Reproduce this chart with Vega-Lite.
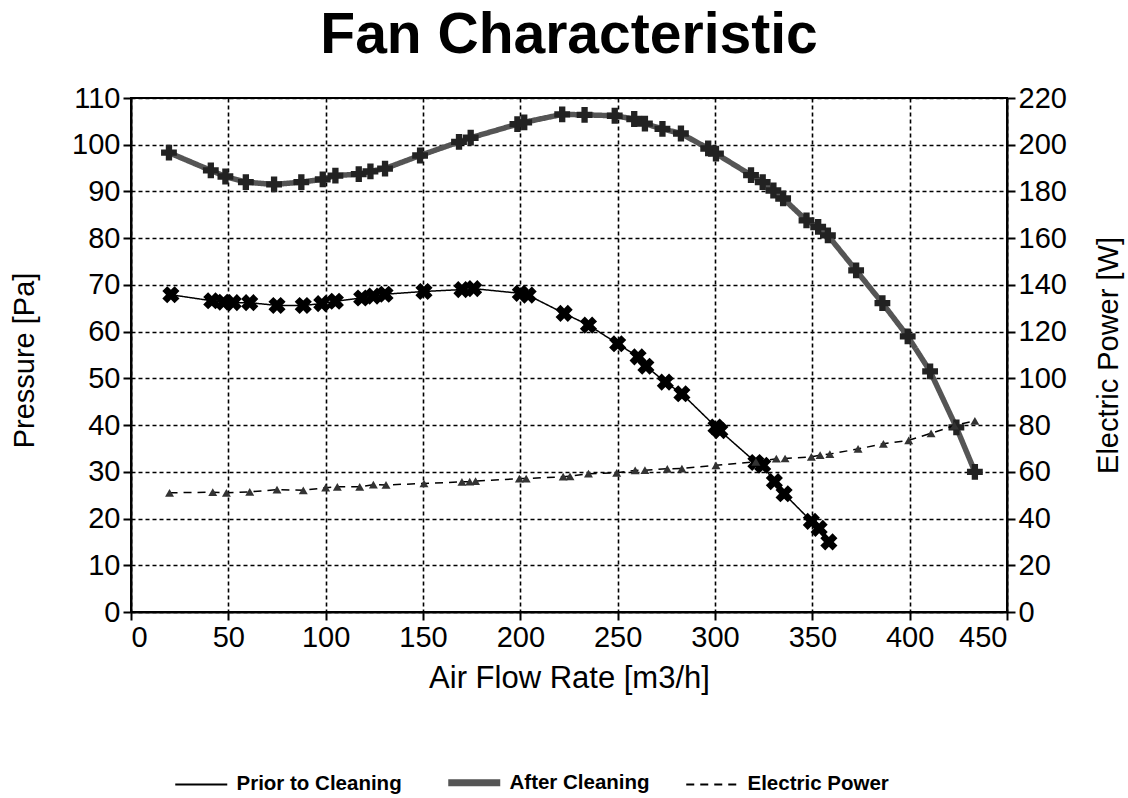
{
  "$schema": "https://vega.github.io/schema/vega-lite/v6.json",
  "width": 876,
  "height": 514,
  "autosize": {"type": "none"},
  "padding": {"left": 131, "top": 98, "right": 121, "bottom": 186},
  "background": "white",
  "title": {"text": "Fan Characteristic", "font": "Liberation Sans", "fontSize": 57, "fontWeight": "bold", "color": "#000", "anchor": "middle", "frame": "group", "baseline": "alphabetic", "offset": -26},
  "config": {
    "font": "Liberation Sans",
    "view": {"stroke": "#000", "strokeWidth": 2},
    "axis": {
      "domainColor": "#000", "domainWidth": 2, "tickColor": "#000", "tickWidth": 2, "tickSize": 8,
      "labelFont": "Liberation Sans", "labelFontSize": 29, "labelColor": "#000", "labelPadding": 3,
      "titleFont": "Liberation Sans", "titleFontSize": 29, "titleFontWeight": "normal", "titleColor": "#000",
      "gridColor": "#000", "gridDash": [4, 3], "gridWidth": 1.6, "gridOpacity": 1
    }
  },
  "datasets": {
    "d": [
      {"series": "After Cleaning", "flow": 19.5, "value": 98.3},
      {"series": "After Cleaning", "flow": 41, "value": 94.5},
      {"series": "After Cleaning", "flow": 48.5, "value": 93.2},
      {"series": "After Cleaning", "flow": 59, "value": 92.0},
      {"series": "After Cleaning", "flow": 73.5, "value": 91.5},
      {"series": "After Cleaning", "flow": 87.5, "value": 92.0},
      {"series": "After Cleaning", "flow": 98.5, "value": 92.6},
      {"series": "After Cleaning", "flow": 105, "value": 93.4},
      {"series": "After Cleaning", "flow": 117, "value": 93.7},
      {"series": "After Cleaning", "flow": 123, "value": 94.3},
      {"series": "After Cleaning", "flow": 130.5, "value": 94.9},
      {"series": "After Cleaning", "flow": 148.5, "value": 97.7},
      {"series": "After Cleaning", "flow": 168.5, "value": 100.6},
      {"series": "After Cleaning", "flow": 174.5, "value": 101.5},
      {"series": "After Cleaning", "flow": 198.5, "value": 104.4},
      {"series": "After Cleaning", "flow": 202, "value": 104.8},
      {"series": "After Cleaning", "flow": 221.5, "value": 106.5},
      {"series": "After Cleaning", "flow": 233, "value": 106.4},
      {"series": "After Cleaning", "flow": 248.5, "value": 106.2},
      {"series": "After Cleaning", "flow": 258.5, "value": 105.5},
      {"series": "After Cleaning", "flow": 264, "value": 104.5},
      {"series": "After Cleaning", "flow": 273, "value": 103.4},
      {"series": "After Cleaning", "flow": 282.5, "value": 102.4},
      {"series": "After Cleaning", "flow": 296.5, "value": 99.2},
      {"series": "After Cleaning", "flow": 300.5, "value": 98.1},
      {"series": "After Cleaning", "flow": 318.5, "value": 93.5},
      {"series": "After Cleaning", "flow": 324.5, "value": 92.0},
      {"series": "After Cleaning", "flow": 330, "value": 90.2},
      {"series": "After Cleaning", "flow": 335, "value": 88.5},
      {"series": "After Cleaning", "flow": 347, "value": 83.8},
      {"series": "After Cleaning", "flow": 353, "value": 82.4},
      {"series": "After Cleaning", "flow": 358, "value": 80.6},
      {"series": "After Cleaning", "flow": 372.5, "value": 73.1},
      {"series": "After Cleaning", "flow": 386, "value": 66.1},
      {"series": "After Cleaning", "flow": 399, "value": 59.0},
      {"series": "After Cleaning", "flow": 410.5, "value": 51.5},
      {"series": "After Cleaning", "flow": 424, "value": 39.5},
      {"series": "After Cleaning", "flow": 433.5, "value": 30.0},
      {"series": "Prior to Cleaning", "flow": 20.5, "value": 67.9},
      {"series": "Prior to Cleaning", "flow": 41.5, "value": 66.6},
      {"series": "Prior to Cleaning", "flow": 47.5, "value": 66.3},
      {"series": "Prior to Cleaning", "flow": 52.5, "value": 66.2},
      {"series": "Prior to Cleaning", "flow": 61, "value": 66.2},
      {"series": "Prior to Cleaning", "flow": 75, "value": 65.6},
      {"series": "Prior to Cleaning", "flow": 88.5, "value": 65.6},
      {"series": "Prior to Cleaning", "flow": 98, "value": 66.0},
      {"series": "Prior to Cleaning", "flow": 105, "value": 66.5},
      {"series": "Prior to Cleaning", "flow": 118.5, "value": 67.2},
      {"series": "Prior to Cleaning", "flow": 124.5, "value": 67.6},
      {"series": "Prior to Cleaning", "flow": 130.5, "value": 68.0},
      {"series": "Prior to Cleaning", "flow": 150.5, "value": 68.6},
      {"series": "Prior to Cleaning", "flow": 170, "value": 69.0},
      {"series": "Prior to Cleaning", "flow": 176, "value": 69.2},
      {"series": "Prior to Cleaning", "flow": 200, "value": 68.2},
      {"series": "Prior to Cleaning", "flow": 204, "value": 67.8},
      {"series": "Prior to Cleaning", "flow": 222.5, "value": 63.9},
      {"series": "Prior to Cleaning", "flow": 235, "value": 61.4},
      {"series": "Prior to Cleaning", "flow": 250, "value": 57.4},
      {"series": "Prior to Cleaning", "flow": 260.5, "value": 54.6},
      {"series": "Prior to Cleaning", "flow": 264.5, "value": 52.6},
      {"series": "Prior to Cleaning", "flow": 274.5, "value": 49.2},
      {"series": "Prior to Cleaning", "flow": 283, "value": 46.7},
      {"series": "Prior to Cleaning", "flow": 300.5, "value": 39.6},
      {"series": "Prior to Cleaning", "flow": 302.5, "value": 38.8},
      {"series": "Prior to Cleaning", "flow": 321, "value": 32.0},
      {"series": "Prior to Cleaning", "flow": 324.5, "value": 31.4},
      {"series": "Prior to Cleaning", "flow": 330.5, "value": 27.9},
      {"series": "Prior to Cleaning", "flow": 335.5, "value": 25.3},
      {"series": "Prior to Cleaning", "flow": 349.5, "value": 19.4},
      {"series": "Prior to Cleaning", "flow": 353.5, "value": 17.9},
      {"series": "Prior to Cleaning", "flow": 358.5, "value": 15.0},
      {"series": "Electric Power", "flow": 19.8, "value": 51.0},
      {"series": "Electric Power", "flow": 42, "value": 51.3},
      {"series": "Electric Power", "flow": 49, "value": 51.0},
      {"series": "Electric Power", "flow": 61, "value": 51.4},
      {"series": "Electric Power", "flow": 75, "value": 52.4},
      {"series": "Electric Power", "flow": 88.5, "value": 52.1},
      {"series": "Electric Power", "flow": 100, "value": 53.2},
      {"series": "Electric Power", "flow": 106, "value": 53.6},
      {"series": "Electric Power", "flow": 117.5, "value": 53.6},
      {"series": "Electric Power", "flow": 124.5, "value": 54.5},
      {"series": "Electric Power", "flow": 131, "value": 54.4},
      {"series": "Electric Power", "flow": 150.5, "value": 55.0},
      {"series": "Electric Power", "flow": 170, "value": 55.7},
      {"series": "Electric Power", "flow": 174, "value": 55.8},
      {"series": "Electric Power", "flow": 177, "value": 56.0},
      {"series": "Electric Power", "flow": 199.5, "value": 57.1},
      {"series": "Electric Power", "flow": 203, "value": 57.1},
      {"series": "Electric Power", "flow": 222, "value": 57.9},
      {"series": "Electric Power", "flow": 225.5, "value": 58.1},
      {"series": "Electric Power", "flow": 235, "value": 59.2},
      {"series": "Electric Power", "flow": 249.5, "value": 59.6},
      {"series": "Electric Power", "flow": 259, "value": 60.6},
      {"series": "Electric Power", "flow": 264, "value": 60.7},
      {"series": "Electric Power", "flow": 275.5, "value": 61.3},
      {"series": "Electric Power", "flow": 283, "value": 61.4},
      {"series": "Electric Power", "flow": 300.5, "value": 62.8},
      {"series": "Electric Power", "flow": 321, "value": 64.3},
      {"series": "Electric Power", "flow": 331.5, "value": 65.6},
      {"series": "Electric Power", "flow": 336, "value": 65.7},
      {"series": "Electric Power", "flow": 349.5, "value": 66.4},
      {"series": "Electric Power", "flow": 354, "value": 67.1},
      {"series": "Electric Power", "flow": 359, "value": 67.6},
      {"series": "Electric Power", "flow": 373.5, "value": 69.8},
      {"series": "Electric Power", "flow": 386.5, "value": 72.0},
      {"series": "Electric Power", "flow": 399.5, "value": 73.5},
      {"series": "Electric Power", "flow": 411, "value": 76.5},
      {"series": "Electric Power", "flow": 423, "value": 79.8},
      {"series": "Electric Power", "flow": 433.5, "value": 81.8}
    ]
  },
  "data": {"name": "d"},
  "encoding": {
    "x": {
      "field": "flow", "type": "quantitative",
      "scale": {"domain": [0, 450], "nice": false},
      "axis": {"values": [0, 50, 100, 150, 200, 250, 300, 350, 400, 450], "title": "Air Flow Rate [m3/h]", "titleFontSize": 31, "grid": true, "titleX": 438, "titleY": 66, "titleAlign": "center", "titleBaseline": "middle"}
    }
  },
  "layer": [
    {
      "encoding": {
        "y": {
          "field": "value", "type": "quantitative",
          "scale": {"domain": [0, 110], "nice": false},
          "axis": {"values": [0, 10, 20, 30, 40, 50, 60, 70, 80, 90, 100, 110], "title": "Pressure [Pa]", "grid": true, "titleX": -107, "titleY": 262, "titleAngle": -90, "titleAlign": "center", "titleBaseline": "middle"}
        }
      },
      "layer": [
        {
          "transform": [{"filter": "datum.series === 'Prior to Cleaning'"}],
          "mark": {"type": "line", "strokeWidth": 1.5},
          "encoding": {
            "color": {"field": "series", "type": "nominal", "scale": {"domain": ["Prior to Cleaning", "After Cleaning", "Electric Power"], "range": ["#000000", "#555555", "#000000"]},
              "legend": {"title": null, "orient": "none", "direction": "horizontal", "legendX": 60, "legendY": 674, "labelFont": "Liberation Sans", "labelFontSize": 20.5, "labelFontWeight": "bold", "labelColor": "#000", "labelLimit": 400, "symbolType": "stroke", "symbolSize": 2704, "columnPadding": 32, "labelOffset": 25,
                "encode": {"symbols": {"update": {"strokeWidth": {"signal": "datum.value === 'After Cleaning' ? 7 : 2"}}}}}},
            "strokeDash": {"field": "series", "type": "nominal", "scale": {"domain": ["Prior to Cleaning", "After Cleaning", "Electric Power"], "range": [[1, 0], [1, 0], [8, 6]]},
              "legend": {"title": null, "orient": "none", "direction": "horizontal", "legendX": 60, "legendY": 674, "labelFont": "Liberation Sans", "labelFontSize": 20.5, "labelFontWeight": "bold", "labelColor": "#000", "labelLimit": 400, "symbolType": "stroke", "symbolSize": 2704, "columnPadding": 32, "labelOffset": 25,
                "encode": {"symbols": {"update": {"strokeWidth": {"signal": "datum.value === 'After Cleaning' ? 7 : 2"}}}}}}
          }
        },
        {
          "transform": [{"filter": "datum.series === 'After Cleaning'"}],
          "mark": {"type": "line", "strokeWidth": 5.5},
          "encoding": {
            "color": {"field": "series", "type": "nominal"},
            "strokeDash": {"field": "series", "type": "nominal"}
          }
        },
        {
          "transform": [{"filter": "datum.series === 'Prior to Cleaning'"}],
          "mark": {"type": "point", "shape": "cross", "angle": 45, "filled": true, "size": 300, "color": "#000", "opacity": 1}
        },
        {
          "transform": [{"filter": "datum.series === 'After Cleaning'"}],
          "mark": {"type": "point", "shape": "cross", "filled": true, "size": 250, "color": "#222", "opacity": 1}
        }
      ]
    },
    {
      "transform": [{"filter": "datum.series === 'Electric Power'"}],
      "encoding": {
        "y": {
          "field": "value", "type": "quantitative",
          "scale": {"domain": [0, 220], "nice": false},
          "axis": {"orient": "right", "values": [0, 20, 40, 60, 80, 100, 120, 140, 160, 180, 200, 220], "title": "Electric Power [W]", "grid": false, "titleX": 101, "titleY": 257, "titleAngle": -90, "titleAlign": "center", "titleBaseline": "middle"}
        }
      },
      "layer": [
        {
          "mark": {"type": "line", "strokeWidth": 1.5},
          "encoding": {
            "color": {"field": "series", "type": "nominal"},
            "strokeDash": {"field": "series", "type": "nominal"}
          }
        },
        {
          "mark": {"type": "point", "shape": "triangle-up", "filled": true, "size": 80, "color": "#333", "opacity": 1}
        }
      ]
    }
  ],
  "resolve": {"scale": {"y": "independent"}}
}
